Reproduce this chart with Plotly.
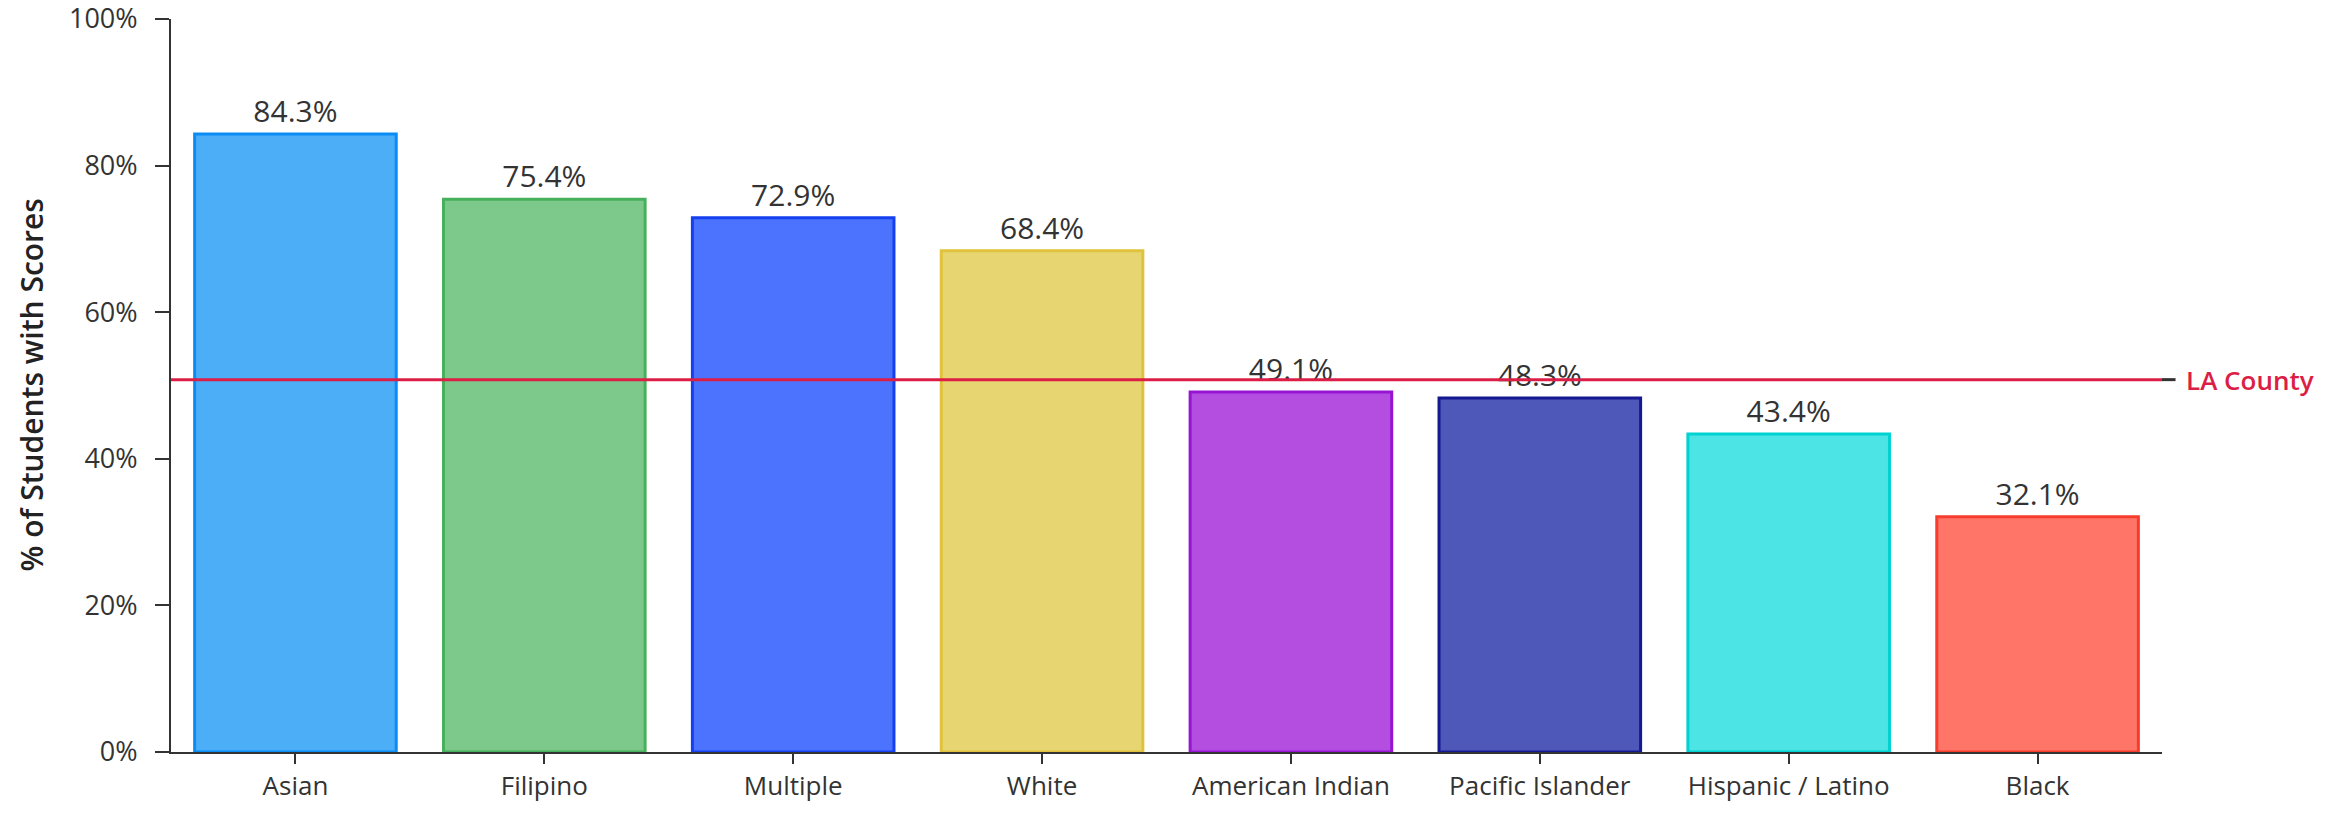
import plotly.graph_objects as go

categories = ["Asian", "Filipino", "Multiple", "White", "American Indian",
              "Pacific Islander", "Hispanic / Latino", "Black"]
values = [84.3, 75.4, 72.9, 68.4, 49.1, 48.3, 43.4, 32.1]
la_county = 50.8
la_label = "LA County"
y_ticks = [0, 20, 40, 60, 80, 100]
y_tick_labels = ["0%", "20%", "40%", "60%", "80%", "100%"]
y_title = "% of Students with Scores"

fill_colors = ["#4caef7", "#7dc98c", "#4c73fd", "#e7d572", "#b44ee0",
               "#4e58b9", "#4ce4e4", "#ff7669"]
line_colors = ["#0a8cf5", "#47b05a", "#1440f0", "#e0c23c", "#9614d2",
               "#141991", "#00d2d2", "#f53c2d"]

FONT = "Open Sans"

fig = go.Figure()
fig.add_trace(go.Bar(
    x=categories, y=values,
    marker=dict(color=fill_colors, line=dict(color=line_colors, width=3)),
    text=[f"{v:.1f}%" for v in values],
    textposition="outside",
    textfont=dict(family=FONT, size=30, color="#333333"),
    cliponaxis=False,
    width=0.81,
))

fig.add_shape(type="line", xref="paper", yref="y", x0=0, x1=1,
              y0=la_county, y1=la_county,
              line=dict(color="#dc1e46", width=3), layer="above")
fig.add_shape(type="line", xref="paper", yref="y", x0=1, x1=1.0068,
              y0=la_county, y1=la_county,
              line=dict(color="#333333", width=3), layer="above")
fig.add_annotation(xref="paper", yref="y", x=1.0112, y=la_county,
                   text=la_label, showarrow=False, xanchor="left",
                   yanchor="middle",
                   font=dict(family=FONT, size=26, color="#dc1e46", weight=600))
fig.add_annotation(xref="paper", yref="paper", x=0, y=0.5, xshift=-140,
                   text=y_title, showarrow=False, textangle=-90,
                   xanchor="center", yanchor="middle",
                   font=dict(family=FONT, size=30, color="#222222", weight=600))

fig.update_layout(
    width=2351, height=818,
    margin=dict(l=171, r=189, t=19, b=66),
    plot_bgcolor="white", paper_bgcolor="white",
    showlegend=False,
    font=dict(family=FONT, color="#333333"),
)
fig.update_yaxes(
    range=[0, 100], tickvals=y_ticks, ticktext=y_tick_labels,
    automargin=False, ticklabeloverflow="allow", ticklabelstandoff=12,
    showgrid=False, zeroline=False,
    showline=True, linecolor="#333333", linewidth=2,
    ticks="outside", ticklen=14, tickcolor="#333333", tickwidth=2,
    tickfont=dict(family=FONT, size=27, color="#333333"),
)
fig.update_xaxes(
    automargin=False,
    showgrid=False, showline=True, linecolor="#333333", linewidth=2,
    ticks="outside", ticklen=10, tickcolor="#333333", tickwidth=2,
    tickfont=dict(family=FONT, size=26, color="#333333"),
)

fig.write_html("out.html",
               config={"displayModeBar": False},
               post_script="document.body.style.margin='0px';"
                           "document.body.style.overflow='hidden';")
